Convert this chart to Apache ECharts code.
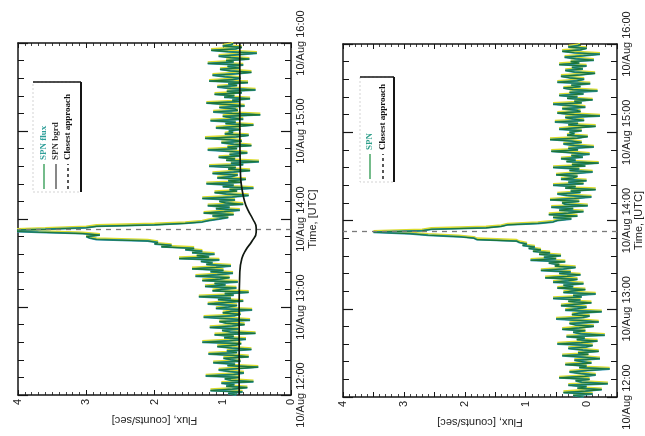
<!DOCTYPE html>
<html>
<head>
<meta charset="utf-8">
<script src="https://cdn.jsdelivr.net/npm/echarts@6/dist/echarts.min.js"></script>
<style>
html,body{margin:0;padding:0;background:#fff;}
#chart{width:645px;height:436px;}
</style>
</head>
<body>
<div id="chart"></div>
<script>
// ---- data ----
const binStartHour = 12;      // first bin start (10/Aug 12:00 UTC)
const binMinutes = 1;         // bin width in minutes
const hourLabels = [12, 13, 14, 15, 16];
const closestApproach = 13.88; // hour (UTC)

// Left panel: SPN flux (counts/sec), 1-min bins 12:00-16:00 (15 per row)
const spnFlux = [
  0.80,0.92,0.71,1.18,0.86,0.64,0.95,0.83,1.02,0.55,0.88,0.97,0.76,1.25,0.84,
  0.69,0.90,1.06,0.78,0.48,0.93,0.82,1.14,0.74,0.88,0.99,0.62,0.85,1.21,0.79,
  0.94,0.58,0.87,1.08,0.81,0.73,1.30,0.90,0.66,0.98,0.84,1.12,0.52,0.89,1.01,
  0.77,1.19,0.86,0.68,0.95,1.05,0.60,0.91,1.28,0.83,0.74,1.00,0.88,0.57,1.10,
  0.92,0.79,1.22,0.98,0.70,1.07,0.88,1.35,0.84,0.97,0.62,1.15,1.02,0.80,1.26,
  0.96,1.12,0.78,1.30,1.04,0.90,1.40,1.08,0.85,1.18,0.99,1.45,1.10,0.88,1.24,
  1.15,1.32,1.05,1.64,1.20,1.38,1.12,1.45,1.30,1.55,1.42,1.90,1.75,2.00,1.95,
  2.10,2.85,2.95,3.00,2.80,3.05,3.70,4.30,3.60,3.00,2.85,2.00,1.55,1.30,1.20,
  1.05,0.92,1.15,0.84,1.28,0.98,0.75,1.10,0.90,1.22,0.70,0.96,1.05,0.82,1.30,
  0.86,0.62,0.95,1.12,0.79,0.90,0.55,1.00,0.84,1.24,0.73,0.92,0.66,1.08,0.87,
  0.78,1.15,0.84,0.60,0.92,0.81,1.20,0.70,0.88,0.47,0.95,0.82,1.06,0.74,0.90,
  0.64,0.86,1.22,0.79,0.93,0.58,0.84,1.02,0.72,0.89,1.26,0.80,0.62,0.97,0.85,
  0.91,0.74,1.10,0.83,0.55,0.96,0.81,1.18,0.70,0.88,1.00,0.45,0.86,1.14,0.78,
  0.82,1.05,0.68,0.90,1.24,0.76,0.86,0.60,0.98,0.83,1.12,0.72,0.94,0.52,0.88,
  1.08,0.79,0.92,0.63,1.20,0.85,0.74,0.97,1.15,0.80,0.58,0.89,1.04,0.76,0.93,
  0.70,1.22,0.84,0.95,0.61,0.88,1.06,0.78,0.50,0.92,1.17,0.81,0.72,1.00,0.86
];
// Left panel: SPN background
const bgrdHours  = [12.0, 13.0, 13.4, 13.55, 13.65, 13.75, 13.85, 13.9, 14.0, 14.1, 14.2, 14.35, 14.5, 15.0, 16.0];
const bgrdValues = [0.76, 0.76, 0.75, 0.72, 0.66, 0.57, 0.51, 0.51, 0.56, 0.63, 0.68, 0.72, 0.74, 0.75, 0.75];

// Right panel: SPN (background subtracted), 1-min bins 12:00-16:00
const spnNet = [
  0.05,0.22,-0.10,0.38,0.02,-0.25,0.15,0.00,0.30,-0.35,0.08,0.18,-0.05,0.45,0.03,
  -0.15,0.10,0.28,-0.02,-0.38,0.12,0.00,0.35,-0.08,0.06,0.20,-0.22,0.04,0.40,-0.03,
  0.14,-0.20,0.06,0.30,0.01,-0.10,0.48,0.09,-0.18,0.16,0.03,0.33,-0.30,0.10,0.22,
  0.02,0.40,0.12,-0.12,0.18,0.28,-0.20,0.10,0.50,0.06,-0.05,0.24,0.13,-0.25,0.35,
  0.15,0.00,0.42,0.20,-0.08,0.30,0.10,0.55,0.08,0.22,-0.15,0.38,0.25,0.02,0.48,
  0.22,0.38,0.05,0.55,0.30,0.15,0.68,0.32,0.10,0.45,0.26,0.75,0.38,0.18,0.52,
  0.45,0.62,0.35,0.92,0.50,0.70,0.42,0.78,0.60,0.88,0.75,0.95,0.85,1.05,0.98,
  1.10,1.15,1.80,1.85,2.10,2.60,2.90,3.50,2.70,2.55,1.65,1.40,1.30,0.80,0.55,
  0.48,0.25,0.55,0.15,0.62,0.30,0.05,0.45,0.22,0.58,-0.02,0.35,0.40,0.12,0.60,
  0.20,-0.08,0.32,0.48,0.10,0.26,-0.15,0.35,0.18,0.55,0.05,0.30,0.00,0.42,0.22,
  0.15,0.50,0.20,-0.10,0.28,0.12,0.55,0.02,0.24,-0.20,0.33,0.18,0.42,0.06,0.25,
  -0.05,0.22,0.58,0.14,0.30,-0.12,0.20,0.38,0.08,0.25,0.60,0.15,-0.02,0.32,0.20,
  0.28,0.08,0.45,0.18,-0.15,0.30,0.14,0.52,0.04,0.22,0.35,-0.22,0.20,0.48,0.10,
  0.16,0.40,0.02,0.24,0.55,0.08,0.20,-0.10,0.32,0.15,0.45,0.05,0.28,-0.18,0.22,
  0.38,0.10,0.25,-0.06,0.48,0.15,0.04,0.28,0.42,0.10,-0.14,0.20,0.35,0.06,0.24,
  0.00,0.45,0.12,0.26,-0.12,0.18,0.36,0.05,-0.22,0.20,0.40,0.10,0.00,0.30,0.12
];

// ---- helpers ----
function stepPoints(vals) {
  const pts = [];
  vals.forEach((v, i) => {
    const t0 = binStartHour + i * binMinutes / 60;
    const t1 = t0 + binMinutes / 60;
    pts.push([v, t0], [v, t1]);
  });
  return pts;
}
const SANS = 'Liberation Sans, Arial, sans-serif';
const SERIF = 'Liberation Serif, Times New Roman, serif';
const INK = '#151515';

function fluxAxis(grid, min, interval, pos, withLabels) {
  return {
    gridIndex: grid, type: 'value', position: pos, inverse: true,
    min: min, max: 4, interval: interval,
    axisLine: { show: true, onZero: false, lineStyle: { color: INK, width: 1.5 } },
    axisTick: { show: true, inside: true, length: 5, lineStyle: { color: INK, width: 1 } },
    minorTick: { show: true, splitNumber: interval === 1 ? 10 : 5, length: 3, lineStyle: { color: INK, width: 0.8 } },
    splitLine: { show: false }, minorSplitLine: { show: false },
    axisLabel: {
      show: withLabels, rotate: 90, margin: 4, fontSize: 11, color: '#222', fontFamily: SANS,
      formatter: v => (Math.abs(v - Math.round(v)) < 1e-6 && v >= 0) ? String(Math.round(v)) : ''
    },
    name: withLabels ? 'Flux, [counts/sec]' : '',
    nameLocation: 'middle', nameGap: 20, nameRotate: 180,
    nameTextStyle: { fontSize: 11, color: '#222', fontFamily: SANS }
  };
}
function timeAxis(grid, pos, withLabels) {
  return {
    gridIndex: grid, type: 'value', position: pos,
    min: 12, max: 16, interval: 1,
    axisLine: { show: true, onZero: false, lineStyle: { color: INK, width: 1.5 } },
    axisTick: { show: true, inside: true, length: 10, lineStyle: { color: INK, width: 1.2 } },
    minorTick: { show: true, splitNumber: 5, length: 6, lineStyle: { color: INK, width: 1 } },
    splitLine: { show: false }, minorSplitLine: { show: false },
    axisLabel: {
      show: withLabels, rotate: 90, margin: 4, fontSize: 11, color: '#222', fontFamily: SANS,
      formatter: v => hourLabels.indexOf(v) >= 0 ? '10/Aug ' + v + ':00' : ''
    },
    name: withLabels ? 'Time, [UTC]' : '',
    nameLocation: 'middle', nameGap: 16, nameRotate: 90,
    nameTextStyle: { fontSize: 11, color: '#222', fontFamily: SANS }
  };
}
function fluxSeries(xi, yi, vals) {
  const pts = stepPoints(vals);
  return [
    {
      type: 'line', xAxisIndex: xi, yAxisIndex: yi, data: pts, showSymbol: false, silent: true,
      lineStyle: { color: '#2a92b4', width: 1.9, shadowColor: '#dcdc2e', shadowOffsetY: -1.3, shadowBlur: 0 },
      z: 2
    },
    {
      type: 'line', xAxisIndex: xi, yAxisIndex: yi, data: pts, showSymbol: false, silent: true,
      lineStyle: { color: '#1d7535', width: 1.1 }, z: 3
    }
  ];
}
function caSeries(xi, yi) {
  return {
    type: 'line', xAxisIndex: xi, yAxisIndex: yi, data: [], silent: true,
    markLine: {
      symbol: 'none', silent: true, label: { show: false },
      lineStyle: { type: [5, 5], color: '#7a7a7a', width: 1.3 },
      data: [{ yAxis: closestApproach }]
    }, z: 4
  };
}

function legendBox(x, y, w, h, items) {
  const els = [
    { type: 'rect', shape: { x: x, y: y, width: w, height: h },
      style: { fill: '#fff', stroke: '#c8c8c8', lineWidth: 0.8, lineDash: [2, 2] }, z: 10 },
    { type: 'line', shape: { x1: x, y1: y, x2: x + w, y2: y }, style: { stroke: INK, lineWidth: 1.6 }, z: 11 },
    { type: 'line', shape: { x1: x + w, y1: y, x2: x + w, y2: y + h }, style: { stroke: INK, lineWidth: 2 }, z: 11 }
  ];
  items.forEach(it => {
    els.push({ type: 'line', shape: { x1: it.x, y1: y + h - 3, x2: it.x, y2: y + h - 28 },
      style: { stroke: it.stroke, lineWidth: 1.4, lineDash: it.dash ? [3, 3] : null }, z: 11 });
    els.push({ type: 'text', x: it.x, y: y + h - 32, rotation: Math.PI / 2,
      style: { text: it.text, fill: it.color, font: 'bold 9px ' + SERIF, align: 'left', verticalAlign: 'middle' }, z: 11 });
  });
  return els;
}

const chart = echarts.init(document.getElementById('chart'), null, { renderer: 'canvas' });
chart.setOption({
  animation: false,
  backgroundColor: '#fff',
  grid: [
    { left: 18, top: 43, width: 273, height: 352 },
    { left: 343, top: 44, width: 275, height: 353 }
  ],
  xAxis: [
    fluxAxis(0, 0, 1, 'bottom', true),
    fluxAxis(0, 0, 1, 'top', false),
    fluxAxis(1, -0.5, 0.5, 'bottom', true),
    fluxAxis(1, -0.5, 0.5, 'top', false)
  ],
  yAxis: [
    timeAxis(0, 'right', true),
    timeAxis(0, 'left', false),
    timeAxis(1, 'right', true),
    timeAxis(1, 'left', false)
  ],
  series: [
    ...fluxSeries(0, 0, spnFlux),
    {
      type: 'line', xAxisIndex: 0, yAxisIndex: 0, smooth: true, showSymbol: false, silent: true,
      data: bgrdHours.map((t, i) => [bgrdValues[i], t]),
      lineStyle: { color: '#101810', width: 1.7 }, z: 5
    },
    caSeries(0, 0),
    ...fluxSeries(2, 2, spnNet),
    caSeries(2, 2)
  ],
  graphic: [
    ...legendBox(33, 82, 48, 110, [
      { x: 44, text: 'SPN flux', color: '#2f9f9a', stroke: '#3a9f5a' },
      { x: 56, text: 'SPN bgrd', color: '#333', stroke: '#555' },
      { x: 68, text: 'Closest approach', color: '#111', stroke: '#111', dash: true }
    ]),
    ...legendBox(360, 77, 34, 105, [
      { x: 370, text: 'SPN', color: '#2f9f8a', stroke: '#3a9f5a' },
      { x: 383, text: 'Closest approach', color: '#111', stroke: '#111', dash: true }
    ])
  ]
});
</script>
</body>
</html>
